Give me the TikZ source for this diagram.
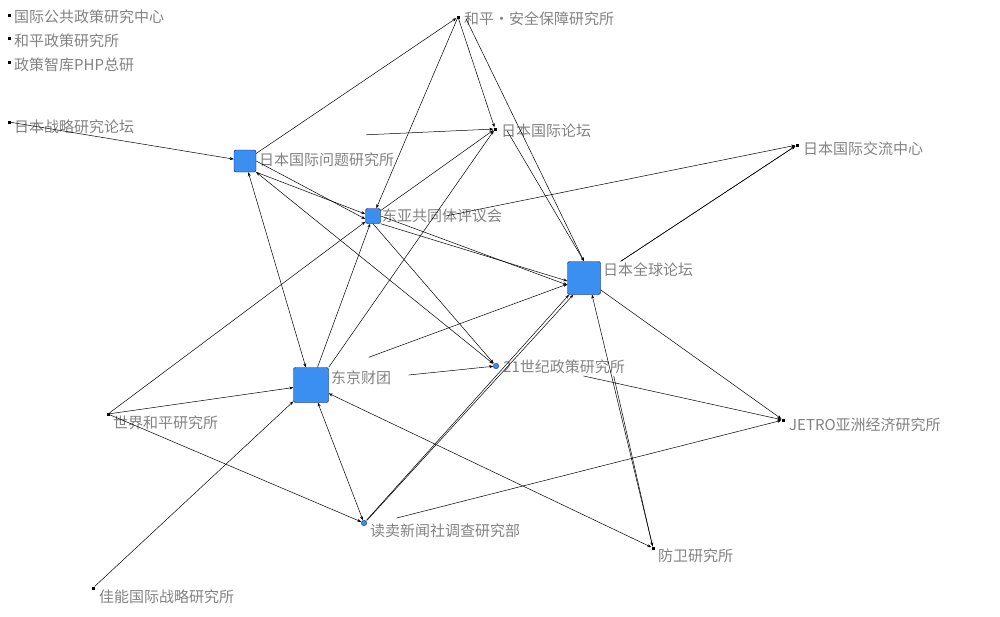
\documentclass[tikz,border=0pt]{standalone}
\usepackage{fontspec}
\newfontfamily\cjk{Noto Sans CJK SC}
\usetikzlibrary{arrows.meta}
\begin{document}
\begin{tikzpicture}[x=1pt,y=-1pt,
  sq/.style={draw=blue!50!black,fill={rgb,255:red,58;green,143;blue,240},rounded corners=2pt,minimum size=#1,inner sep=0pt},
  dot/.style={fill=black,minimum size=3pt,inner sep=0pt},
  lab/.style={anchor=west,font=\cjk\fontsize{15}{15}\selectfont,text={rgb,255:red,130;green,130;blue,130},inner sep=1pt},
  ed/.style={-{Stealth[length=4pt,width=3pt]},line width=0.5pt,shorten >=0pt},
  bi/.style={{Stealth[length=4pt,width=3pt]}-{Stealth[length=4pt,width=3pt]},line width=0.5pt}]
\useasboundingbox (0,0) rectangle (1000,616);
\node[dot] (GJ) at (9,15) {}; \node[lab] at (13,17) {国际公共政策研究中心};
\node[dot] (HP) at (9,38) {}; \node[lab] at (13,41) {和平政策研究所};
\node[dot] (PHP) at (9,62) {}; \node[lab] at (13,65) {政策智库PHP总研};
\node[dot] (ZL) at (9,122) {}; \node[lab] at (13,127) {日本战略研究论坛};
\node[sq=22pt] (JIIA) at (245,161) {}; \node[lab] at (258,160) {日本国际问题研究所};
\node[dot] (HPA) at (458,17) {}; \node[lab] at (463,19) {和平·安全保障研究所};
\node[dot] (JF) at (495,129) {}; \node[lab] at (500,131) {日本国际论坛};
\node[dot] (JCIE) at (797,145) {}; \node[lab] at (802,149) {日本国际交流中心};
\node[sq=15pt] (EA) at (373,216) {}; \node[lab] at (381,216) {东亚共同体评议会};
\node[sq=33pt] (GF) at (584,278) {}; \node[lab] at (602,270) {日本全球论坛};
\node[sq=35pt] (TF) at (311,385) {}; \node[lab] at (330,378) {东京财团};
\node[sq=5pt] (C21) at (496,366) {}; \node[lab] at (502,367) {21世纪政策研究所};
\node[dot] (WP) at (108,414) {}; \node[lab] at (112,423) {世界和平研究所};
\node[dot] (JE) at (783,420) {}; \node[lab] at (788,425) {JETRO亚洲经济研究所};
\node[sq=5pt] (YM) at (364,523) {}; \node[lab] at (369,531) {读卖新闻社调查研究部};
\node[dot] (DF) at (653,548) {}; \node[lab] at (657,556) {防卫研究所};
\node[dot] (CN) at (93,588) {}; \node[lab] at (98,597) {佳能国际战略研究所};
\draw[ed] (ZL) -- (JIIA);
\draw[ed] (JIIA) -- (HPA);
\draw[ed] (JIIA.north east) ++(110,-15) -- (JF);
\draw[ed] (JIIA.east) -- ([yshift=-3pt]EA.west);
\draw[ed] (JIIA.south east) -- ([yshift=2pt]EA.west);
\draw[bi] (JIIA) -- (TF);
\draw[bi] (JIIA.south east) -- (C21);
\draw[ed] (HPA) -- (EA);
\draw[ed] (HPA) -- (JF);
\draw[ed] ([xshift=8pt]HPA.south) -- (GF.north);
\draw[ed] ([xshift=12pt]JF.south) -- (GF.north);
\draw[ed] (EA) -- (JF);
\draw[ed] ([xshift=65pt]EA.east) -- (JCIE);
\draw[ed] (EA.south east) -- ([yshift=-3pt]GF.west);
\draw[ed] (EA.east) -- ([yshift=-7pt]GF.west);
\draw[ed] (EA.south) -- (C21);
\draw[ed] (WP) -- (EA);
\draw[ed] (TF) -- (EA);
\draw[ed] (TF.north east) -- (JF);
\draw[ed] (GF.north east) ++(20,0) -- (JCIE);
\draw[ed] (TF.north east) ++(40,-10) -- (GF);
\draw[ed] (TF.east) ++(80,-10) -- (C21);
\draw[ed] (YM) -- (GF);
\draw[ed] ([xshift=3pt]YM.north) -- ([xshift=6pt]GF.south west);
\draw[bi] (TF) -- (YM);
\draw[ed] (WP) -- (TF);
\draw[ed] (WP) -- (YM);
\draw[ed] (CN) -- (TF);
\draw[ed] (C21.east) ++(85,10) -- (JE);
\draw[ed] (YM.east) ++(30,-5) -- (JE);
\draw[ed] (GF) -- (JE);
\draw[ed] (GF.north east) ++(20,0) -- (JCIE);
\draw[ed] (DF) -- ([xshift=8pt]GF.south);
\draw[ed] (C21.east) ++(115,10) -- (DF);
\draw[bi] (TF) -- (DF);
\end{tikzpicture}
\end{document}
